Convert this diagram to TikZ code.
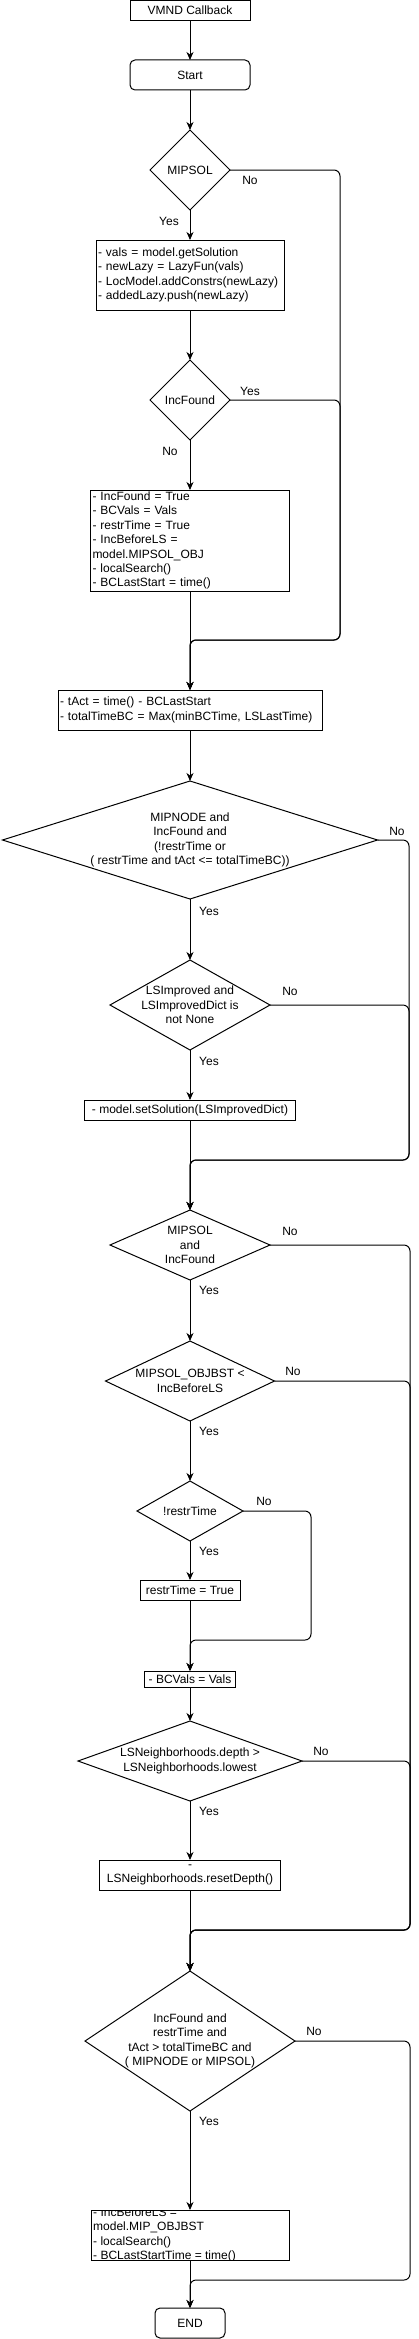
\documentclass[tikz,border=0pt]{standalone}
\usepackage{fontspec}
\setmainfont{Liberation Sans}
\usetikzlibrary{shapes.geometric,arrows.meta}
\begin{document}
\begin{tikzpicture}[x=1pt,y=-1pt,
  every node/.style={font=\fontsize{12}{14.4}\selectfont},
  box/.style={draw, rectangle, line width=1pt, inner xsep=2pt, inner ysep=0pt, outer sep=0pt},
  rbox/.style={box, rounded corners=5pt},
  dia/.style={draw, diamond, line width=1pt, inner sep=0pt, outer sep=0pt},
  txt/.style={align=center, inner sep=0pt},
  lbl/.style={inner sep=0pt},
  flow/.style={line width=1pt, -{Stealth[length=8pt,width=7pt,inset=2.5pt]}},
  back/.style={flow, rounded corners=6pt},
]
\useasboundingbox (0,0) rectangle (419,2339);

% nodes
\node[box, minimum width=120pt, minimum height=20pt] (cb) at (190,10.5) {VMND Callback};
\node[rbox, minimum width=120pt, minimum height=30pt] (start) at (190,75) {Start};
\node[dia, minimum width=80pt, minimum height=80pt] (d1) at (190,170) {};
\node[txt] at (d1) {MIPSOL};
\node[box, text width=184pt, align=left, minimum height=70pt] (b1) at (190,275) {- vals = model.getSolution\\- newLazy = LazyFun(vals)\\- LocModel.addConstrs(newLazy)\\- addedLazy.push(newLazy)};
\node[dia, minimum width=80pt, minimum height=80pt] (d2) at (190,400) {};
\node[txt] at (d2) {IncFound};
\node[box, text width=195pt, align=left, minimum height=101pt] (b2) at (190,540.5) {- IncFound = True\\- BCVals = Vals\\- restrTime = True\\- IncBeforeLS =\\model.MIPSOL\_OBJ\\- localSearch()\\- BCLastStart = time()};
\node[box, text width=260pt, align=left, minimum height=40pt] (b3) at (190,710) {- tAct = time() - BCLastStart\\- totalTimeBC = Max(minBCTime, LSLastTime)};
\node[dia, minimum width=375pt, minimum height=118pt] (d3) at (190,840) {};
\node[txt] at (d3) {MIPNODE and\\IncFound and\\(!restrTime or\\( restrTime and tAct <= totalTimeBC))};
\node[dia, minimum width=160pt, minimum height=90pt] (d4) at (190,1005) {};
\node[txt] at (d4) {LSImproved and\\LSImprovedDict is\\not None};
\node[box, minimum width=211pt, minimum height=20pt] (b4) at (190,1110) {- model.setSolution(LSImprovedDict)};
\node[dia, minimum width=160pt, minimum height=70pt] (d5) at (190,1245) {};
\node[txt] at (d5) {MIPSOL\\and\\IncFound};
\node[dia, minimum width=169pt, minimum height=80pt] (d6) at (190,1381) {};
\node[txt] at (d6) {MIPSOL\_OBJBST <\\IncBeforeLS};
\node[dia, minimum width=106pt, minimum height=60pt] (d7) at (190,1511) {};
\node[txt] at (d7) {!restrTime};
\node[box, minimum width=100pt, minimum height=20pt] (b5) at (190,1590) {restrTime = True};
\node[box, minimum width=91pt, minimum height=16pt] (b6) at (190,1679) {- BCVals = Vals};
\node[dia, minimum width=224pt, minimum height=80pt] (d8) at (190,1761) {};
\node[txt] at (d8) {LSNeighborhoods.depth >\\LSNeighborhoods.lowest};
\node[box, minimum width=181pt, minimum height=30pt, align=center] (b7) at (190,1875) {-\\LSNeighborhoods.resetDepth()};
\node[dia, minimum width=210pt, minimum height=140pt] (d9) at (190,2041) {};
\node[txt] at (d9) {IncFound and\\restrTime and\\tAct > totalTimeBC and\\( MIPNODE or MIPSOL)};
\node[box, minimum width=198pt, minimum height=50pt] (b8) at (190,2235) {};
\begin{scope}
  \clip (b8.north west) rectangle (b8.south east);
  \node[txt, align=left, anchor=west] (b8t) at ([xshift=2pt]b8.west) {- IncBeforeLS =\\model.MIP\_OBJBST\\- localSearch()\\- BCLastStartTime = time()};
\end{scope}
\node[rbox, minimum width=70pt, minimum height=30pt] (end) at (190,2323) {END};

% merge points
\coordinate (r1) at (340,640);  \coordinate (m1) at (190,640);
\coordinate (r2) at (409,1160); \coordinate (m2) at (190,1160);
\coordinate (r3) at (410,1930); \coordinate (m3) at (190,1930);
\coordinate (r4) at (311,1640); \coordinate (m4) at (190,1640);
\coordinate (r5) at (410,2280); \coordinate (m5) at (190,2280);

% connectors
\draw[flow] (cb) -- (start);
\draw[flow] (start) -- (d1);
\draw[flow] (d1) -- (b1);
\node[lbl] at (169,221) {Yes};
\draw[back] (d1.east) -- (d1.east -| r1) -- (r1) -- (m1) -- (b3.north);
\node[lbl] at (250,180) {No};
\draw[flow] (b1) -- (d2);
\draw[flow] (d2) -- (b2);
\node[lbl] at (170,451) {No};
\draw[back] (d2.east) -- (d2.east -| r1) -- (r1) -- (m1) -- (b3.north);
\node[lbl] at (250,391) {Yes};
\draw[flow] (b2) -- (b3);
\draw[flow] (b3) -- (d3);
\draw[flow] (d3) -- (d4);
\node[lbl] at (209,911) {Yes};
\draw[back] (d3.east) -- (d3.east -| r2) -- (r2) -- (m2) -- (d5.north);
\node[lbl] at (397,831) {No};
\draw[back] (d4.east) -- (d4.east -| r2) -- (r2) -- (m2) -- (d5.north);
\node[lbl] at (290,991) {No};
\draw[flow] (d4) -- (b4);
\node[lbl] at (209,1061) {Yes};
\draw[flow] (b4) -- (d5);
\draw[flow] (d5) -- (d6);
\node[lbl] at (209,1290) {Yes};
\draw[back] (d5.east) -- (d5.east -| r3) -- (r3) -- (m3) -- (d9.north);
\node[lbl] at (290,1231) {No};
\draw[back] (d6.east) -- (d6.east -| r3) -- (r3) -- (m3) -- (d9.north);
\node[lbl] at (293,1371) {No};
\draw[flow] (d6) -- (d7);
\node[lbl] at (209,1431) {Yes};
\draw[back] (d7.east) -- (d7.east -| r4) -- (r4) -- (m4) -- (b6.north);
\node[lbl] at (264,1501) {No};
\draw[flow] (d7) -- (b5);
\node[lbl] at (209,1551) {Yes};
\draw[flow] (b5) -- (b6);
\draw[flow] (b6) -- (d8);
\draw[back] (d8.east) -- (d8.east -| r3) -- (r3) -- (m3) -- (d9.north);
\node[lbl] at (321,1751) {No};
\draw[flow] (d8) -- (b7);
\node[lbl] at (209,1811) {Yes};
\draw[flow] (b7) -- (d9);
\draw[flow] (d9) -- (b8);
\node[lbl] at (209,2121) {Yes};
\draw[back] (d9.east) -- (d9.east -| r5) -- (r5) -- (m5) -- (end.north);
\node[lbl] at (314,2031) {No};
\draw[flow] (b8) -- (end);
\end{tikzpicture}
\end{document}
